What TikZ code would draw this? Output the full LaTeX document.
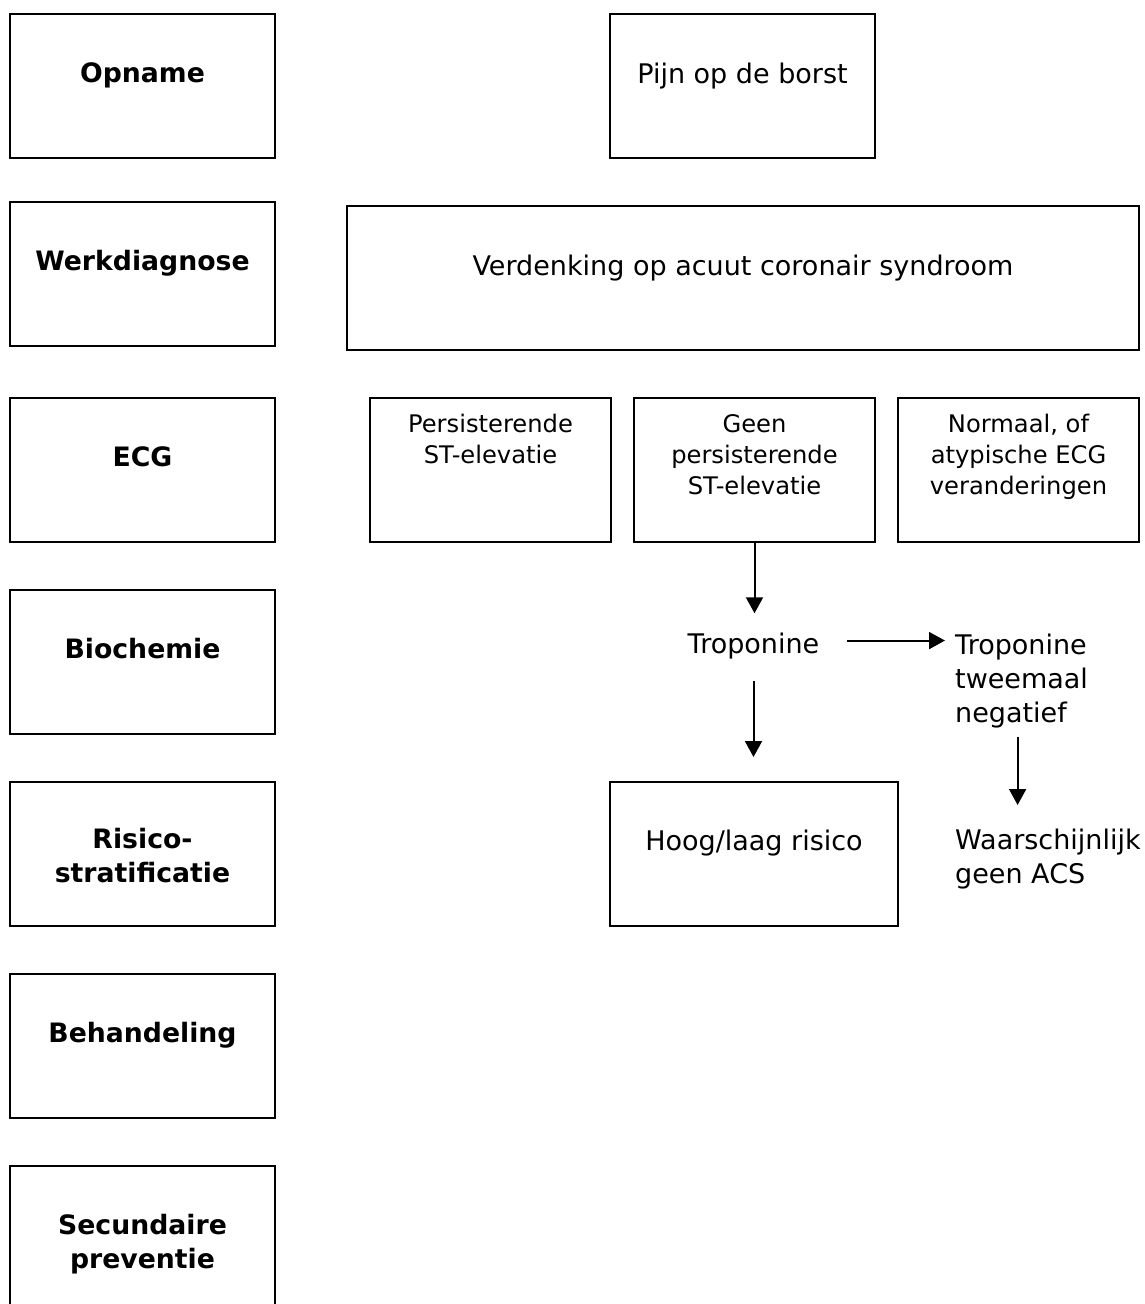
\documentclass[tikz,border=0pt]{standalone}
\usepackage{fontspec}
\setmainfont{DejaVu Sans}
\usetikzlibrary{arrows.meta}
\tikzset{
  box/.style={draw, line width=2pt, inner sep=0pt, anchor=north west},
  lbl/.style={inner sep=0pt, anchor=north, align=center, font=\bfseries\fontsize{26.7}{34}\selectfont},
  txt/.style={inner sep=0pt, anchor=north, align=center, font=\fontsize{27}{34}\selectfont},
  small/.style={inner sep=0pt, anchor=north, align=center, font=\fontsize{24.2}{31}\selectfont},
  free/.style={inner sep=0pt, align=left, font=\fontsize{27}{34}\selectfont},
  arr/.style={line width=2pt, -{Triangle[length=16pt,width=17pt]}}
}
\begin{document}
\begin{tikzpicture}[x=1pt,y=-1pt]
\useasboundingbox (0,0) rectangle (1145,1304);
% left column
\node[box, minimum width=265pt, minimum height=144pt] (b1) at (9,13) {};
\node[lbl] (t1) at ([yshift=-49pt]b1.north) {Opname};
\node[box, minimum width=265pt, minimum height=144pt] (b2) at (9,201) {};
\node[lbl] (t2) at ([yshift=-49pt]b2.north) {Werkdiagnose};
\node[box, minimum width=265pt, minimum height=144pt] (b3) at (9,397) {};
\node[lbl] (t3) at ([yshift=-49pt]b3.north) {ECG};
\node[box, minimum width=265pt, minimum height=144pt] (b4) at (9,589) {};
\node[lbl] (t4) at ([yshift=-49pt]b4.north) {Biochemie};
\node[box, minimum width=265pt, minimum height=144pt] (b5) at (9,781) {};
\node[lbl] (t5) at ([yshift=-47pt]b5.north) {Risico-\\stratificatie};
\node[box, minimum width=265pt, minimum height=144pt] (b6) at (9,973) {};
\node[lbl] (t6) at ([yshift=-49pt]b6.north) {Behandeling};
\node[box, minimum width=265pt, minimum height=144pt] (b7) at (9,1165) {};
\node[lbl] (t7) at ([yshift=-49pt]b7.north) {Secundaire\\preventie};
% right side
\node[box, minimum width=265pt, minimum height=144pt] (pijn) at (609,13) {};
\node[txt] (pijnt) at ([yshift=-50pt]pijn.north) {Pijn op de borst};
\node[box, minimum width=792pt, minimum height=144pt] (verd) at (346,205) {};
\node[txt] (verdt) at ([yshift=-50pt]verd.north) {Verdenking op acuut coronair syndroom};
\node[box, minimum width=241pt, minimum height=144pt] (e1) at (369,397) {};
\node[small] (e1t) at ([yshift=-17pt]e1.north) {Persisterende\\ST-elevatie};
\node[box, minimum width=241pt, minimum height=144pt] (e2) at (633,397) {};
\node[small] (e2t) at ([yshift=-17pt]e2.north) {Geen\\persisterende\\ST-elevatie};
\node[box, minimum width=241pt, minimum height=144pt] (e3) at (897,397) {};
\node[small] (e3t) at ([yshift=-17pt]e3.north) {Normaal, of\\atypische ECG\\veranderingen};
\node[free, anchor=base] (trop) at (753.5,653) {Troponine};
\node[free, anchor=north west] (trop2) at (955,634) {Troponine\\tweemaal\\negatief};
\node[box, minimum width=288pt, minimum height=144pt] (hoog) at (609,781) {};
\node[txt] (hoogt) at ([yshift=-49pt]hoog.north) {Hoog/laag risico};
\node[free, anchor=north west] (waar) at (955,829) {Waarschijnlijk\\geen ACS};
% connectors
\draw[arr] (e2.south) -- ([yshift=19pt]e2.south |- trop.north);
\draw[arr] ([yshift=-22pt]trop.south) -- ([yshift=24pt]trop.south |- hoog.north);
\draw[arr] ([xshift=28pt,yshift=5pt]trop.east) coordinate (hs) -- ([xshift=-10pt]hs -| trop2.west);
\draw[arr] ([xshift=-4pt,yshift=-8pt]trop2.south) coordinate (vs) -- ([yshift=24pt]vs |- waar.north);
\end{tikzpicture}
\end{document}
